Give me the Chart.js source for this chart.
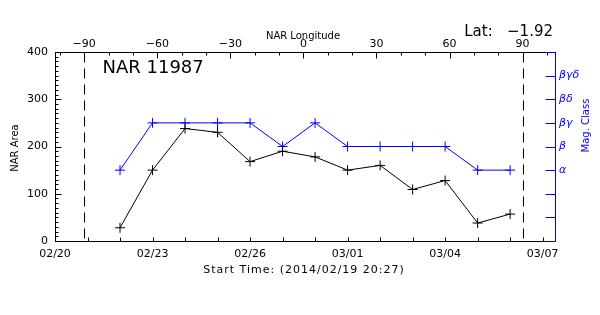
<!DOCTYPE html>
<html><head><meta charset="utf-8">
<script src="https://cdn.jsdelivr.net/npm/chart.js@4/dist/chart.umd.min.js"></script>
<style>html,body{margin:0;padding:0;background:#fff}#wrap{width:600px;height:315px}</style>
</head><body><div id="wrap"><canvas id="c" width="600" height="315"></canvas></div>
<script>
// ---- data ----
const dates = ['02/22','02/23','02/24','02/25','02/26','02/27','02/28','03/01','03/02','03/03','03/04','03/05','03/06'];
const narArea = [28,150,238,230,168,190,178,150,160,109,128,38,57];
const magClass = ['α','βγ','βγ','βγ','βγ','β','βγ','β','β','β','β','α','α'];
const magClassLabels = ['','','','α','β','βγ','βδ','βγδ',''];
const dateTickLabels = ['02/20','02/23','02/26','03/01','03/04','03/07'];
const lonTicks = [-90,-60,-30,0,30,60,90];
const areaTicks = [0,100,200,300,400];
const magTicks = [3,4,5,6,7];
const limbLongitudes = [-90, 90];
const titleText = 'NAR 11987';
const latText = 'Lat:   \u22121.92';
const startTimeText = 'Start Time: (2014/02/19 20:27)';
const xTitle = 'NAR Longitude';
const yTitle = 'NAR Area';
const y2Title = 'Mag. Class';

const FAM = 'DejaVu Sans';
const BLUE = '#0000ff';

function dayIndex(s){ const [m,d] = s.split('/').map(Number); return m === 2 ? d - 20 : 8 + d; }
function fmtLon(v){ return v < 0 ? '\u2212' + Math.abs(v) : String(v); }

const areaPts = dates.map((d,i) => ({x: dayIndex(d), y: narArea[i]}));
const magPts = dates.map((d,i) => ({x: dayIndex(d), y: magClassLabels.indexOf(magClass[i])}));

const idlPlugin = {
  id: 'idl',
  afterDraw(chart){
    const ctx = chart.ctx, a = chart.chartArea, s = chart.scales;
    const L = a.left + 0.5, R = a.right + 0.5, T = a.top + 0.5, B = a.bottom + 0.5;
    ctx.save();
    ctx.lineWidth = 1;
    ctx.strokeStyle = '#000';
    // limb dashed lines
    ctx.setLineDash([10,6]);
    limbLongitudes.forEach(l => {
      const px = Math.round(s.xTop.getPixelForValue(l)) + 0.5;
      ctx.beginPath(); ctx.moveTo(px, T); ctx.lineTo(px, B); ctx.stroke();
    });
    ctx.setLineDash([]);
    // bottom ticks (daily)
    ctx.beginPath();
    for (let d = 0; d <= 15; d++) {
      const px = Math.round(s.x.getPixelForValue(d)) + 0.5;
      ctx.moveTo(px, B); ctx.lineTo(px, B - 4);
    }
    // top ticks (every 10 deg)
    for (let l = -100; l <= 100; l += 10) {
      const px = Math.round(s.xTop.getPixelForValue(l)) + 0.5;
      const len = (l % 30 === 0) ? 6 : 3;
      ctx.moveTo(px, T); ctx.lineTo(px, T + len);
    }
    // left ticks (every 10)
    for (let v = 0; v <= 400; v += 10) {
      const py = Math.round(s.y.getPixelForValue(v)) + 0.5;
      const len = (v % 100 === 0) ? 6 : 3;
      ctx.moveTo(L, py); ctx.lineTo(L + len, py);
    }
    ctx.stroke();
    // right ticks (blue)
    ctx.strokeStyle = BLUE;
    ctx.beginPath();
    for (let v = 0; v <= 8; v++) {
      const py = Math.round(s.yMag.getPixelForValue(v)) + 0.5;
      ctx.moveTo(R, py); ctx.lineTo(R - 10, py);
    }
    ctx.stroke();
    // texts
    ctx.fillStyle = '#000';
    ctx.textBaseline = 'alphabetic';
    ctx.font = '18px "' + FAM + '"';
    ctx.textAlign = 'left';
    ctx.fillText(titleText, 102.5, 72.5);
    ctx.font = '15px "' + FAM + '"';
    ctx.textAlign = 'right';
    ctx.fillText(latText, 553, 36);
    ctx.font = '10px "' + FAM + '"';
    ctx.textAlign = 'center';
    ctx.fillText(xTitle, 303, 39);
    ctx.font = '11px "' + FAM + '"';
    try { ctx.letterSpacing = '1px'; } catch(e) {}
    ctx.fillText(startTimeText, 304, 273);
    try { ctx.letterSpacing = '0px'; } catch(e) {}
    ctx.font = '10px "' + FAM + '"';
    ctx.textBaseline = 'middle';
    ctx.save(); ctx.translate(15.5, 148); ctx.rotate(-Math.PI/2); ctx.fillText(yTitle, 0, 0); ctx.restore();
    ctx.fillStyle = BLUE;
    ctx.save(); ctx.translate(586, 125.5); ctx.rotate(-Math.PI/2); ctx.fillText(y2Title, 0, 0); ctx.restore();
    ctx.restore();
  }
};

new Chart(document.getElementById('c'), {
  type: 'line',
  data: {
    datasets: [
      { label: 'NAR Area', data: areaPts, xAxisID: 'x', yAxisID: 'y',
        borderColor: '#000', borderWidth: 1, pointStyle: 'cross', pointRadius: 5,
        pointBorderColor: '#000', pointBorderWidth: 1, tension: 0, fill: false },
      { label: 'Mag. Class', data: magPts, xAxisID: 'x', yAxisID: 'yMag',
        borderColor: BLUE, borderWidth: 1, pointStyle: 'cross', pointRadius: 5,
        pointBorderColor: BLUE, pointBorderWidth: 1, tension: 0, fill: false }
    ]
  },
  options: {
    responsive: false, animation: false, devicePixelRatio: 1,
    layout: { padding: 0 },
    plugins: { legend: { display: false }, tooltip: { enabled: false } },
    scales: {
      x: { type: 'linear', position: 'bottom', min: 0, max: 15.38,
        afterFit: sc => { sc.height = 74; },
        afterBuildTicks: sc => { sc.ticks = dateTickLabels.map(l => ({ value: dayIndex(l) })); },
        ticks: { autoSkip: false, maxRotation: 0, padding: 7, color: '#000', font: { family: FAM, size: 11 },
          callback: v => { const l = dateTickLabels.find(t => dayIndex(t) === v); return l || ''; } },
        grid: { display: false, drawTicks: false }, border: { display: true, color: '#000', width: 1 } },
      xTop: { type: 'linear', position: 'top', min: -102.0, max: 103.3,
        afterFit: sc => { sc.height = 52; },
        afterBuildTicks: sc => { sc.ticks = lonTicks.map(v => ({ value: v })); },
        ticks: { autoSkip: false, maxRotation: 0, padding: 1, color: '#000', font: { family: FAM, size: 11 },
          callback: v => fmtLon(v) },
        grid: { display: false, drawTicks: false }, border: { display: true, color: '#000', width: 1 } },
      y: { type: 'linear', position: 'left', min: 0, max: 400,
        afterFit: sc => { sc.width = 55; },
        afterBuildTicks: sc => { sc.ticks = areaTicks.map(v => ({ value: v })); },
        ticks: { autoSkip: false, padding: 7, color: '#000', font: { family: FAM, size: 11 } },
        grid: { display: false, drawTicks: false }, border: { display: true, color: '#000', width: 1 } },
      yMag: { type: 'linear', position: 'right', min: 0, max: 8,
        afterFit: sc => { sc.width = 45; },
        afterBuildTicks: sc => { sc.ticks = magTicks.map(v => ({ value: v })); },
        ticks: { autoSkip: false, padding: 4, color: BLUE, font: { family: FAM, size: 11, style: 'italic' },
          callback: v => magClassLabels[v] },
        grid: { display: false, drawTicks: false }, border: { display: true, color: BLUE, width: 1 } }
    }
  },
  plugins: [idlPlugin]
});
</script>
</body></html>
